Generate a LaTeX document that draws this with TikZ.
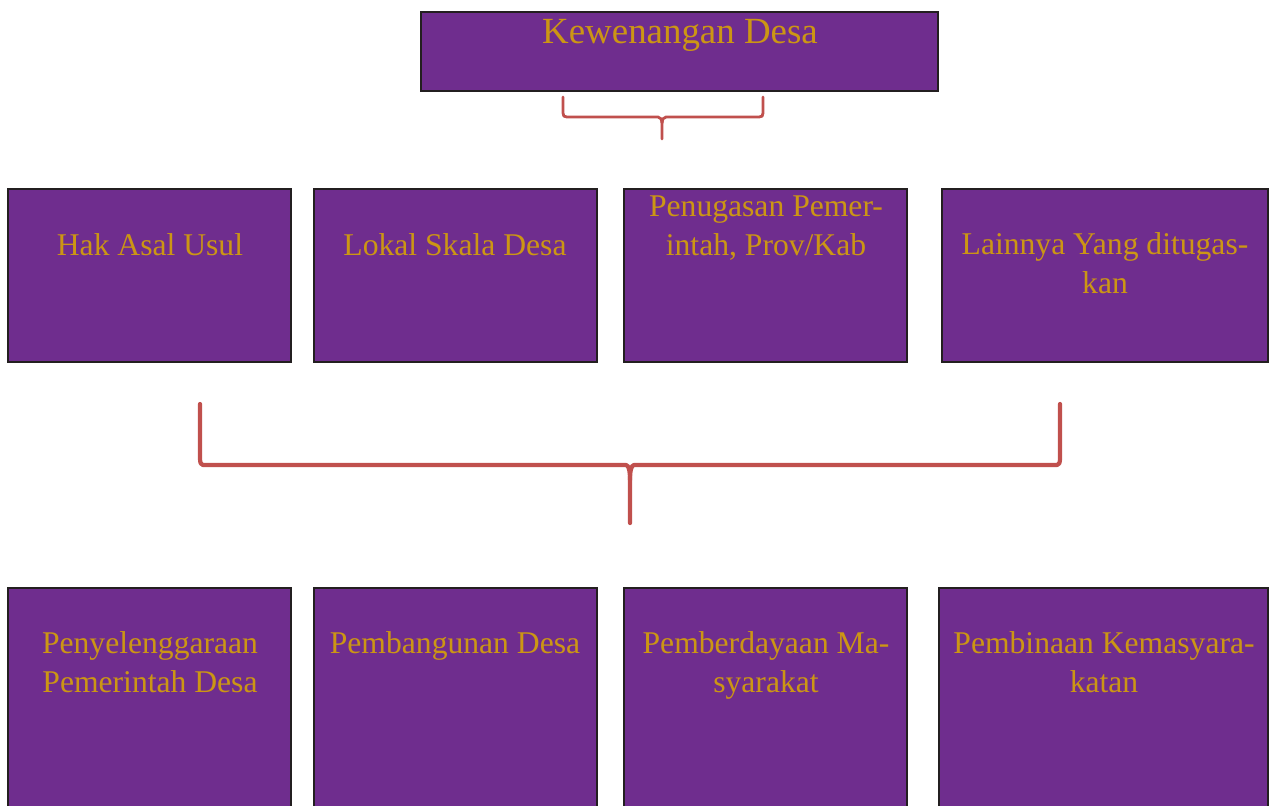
\documentclass[tikz,border=0pt]{standalone}
\usepackage{fontspec}
\setmainfont{Liberation Serif}
\definecolor{boxfill}{RGB}{111,45,142}
\definecolor{boxline}{RGB}{35,31,32}
\definecolor{gold}{RGB}{204,150,20}
\definecolor{bracered}{RGB}{192,80,77}

\begin{document}
\begin{tikzpicture}[x=0.02cm,y=-0.02cm,
  box/.style={draw=boxline,line width=1.6pt,fill=boxfill,inner sep=0pt},
  lbl/.style={text=gold,align=center,anchor=base,inner sep=0pt,font=\fontsize{18}{22.2}\selectfont},
  brc/.style={draw=bracered,line cap=round,line join=round}]
\useasboundingbox (0,0) rectangle (1273,805);
\clip (0,0) rectangle (1273,805);
% top box
\node[box,minimum width=10.34cm,minimum height=1.58cm] (kew) at (679.5,51.5) {};
\node[lbl,font=\fontsize{21}{25}\selectfont] (kewt) at (680,43) {Kewenangan Desa};
% row 1
\node[box,minimum width=5.66cm,minimum height=3.46cm] (hak) at (149.5,275.5) {};
\node[box,minimum width=5.66cm,minimum height=3.46cm] (lokal) at (455.5,275.5) {};
\node[box,minimum width=5.66cm,minimum height=3.46cm] (tugas) at (765.5,275.5) {};
\node[box,minimum width=6.52cm,minimum height=3.46cm] (lain) at (1105,275.5) {};
\node[lbl] (hakt) at (150,255) {Hak Asal Usul};
\node[lbl] (lokalt) at (455,255) {Lokal Skala Desa};
\node[lbl] (tugast) at (766,255) {Penugasan Pemer-\\intah, Prov/Kab};
\node[lbl] (laint) at (1105,293) {Lainnya Yang ditugas-\\kan};
% row 2
\node[box,minimum width=5.66cm,minimum height=4.8cm] (peny) at (149.5,708) {};
\node[box,minimum width=5.66cm,minimum height=4.8cm] (bang) at (455.5,708) {};
\node[box,minimum width=5.66cm,minimum height=4.8cm] (daya) at (765.5,708) {};
\node[box,minimum width=6.58cm,minimum height=4.8cm] (bina) at (1103.5,708) {};
\node[lbl] (penyt) at (150,692) {Penyelenggaraan\\Pemerintah Desa};
\node[lbl] (bangt) at (455,653) {Pembangunan Desa};
\node[lbl] (dayat) at (766,692) {Pemberdayaan Ma-\\syarakat};
\node[lbl] (binat) at (1104,692) {Pembinaan Kemasyara-\\katan};
% braces
\coordinate (b1l) at (563,97);
\coordinate (b1r) at (763,97);
\coordinate (b1m) at (662,139);
\draw[brc,line width=1.6pt] (b1l) -- ++(0,16) .. controls +(0,3) and +(-3,0) .. ++(4,4)
  -- ++(91,0) .. controls +(3,0) and +(0,-3) .. (b1m |- 0,123) -- (b1m);
\draw[brc,line width=1.6pt] (b1r) -- ++(0,16) .. controls +(0,3) and +(3,0) .. ++(-4,4)
  -- ++(-93,0) .. controls +(-3,0) and +(0,-3) .. (b1m |- 0,123);
\coordinate (b2l) at (200,404);
\coordinate (b2r) at (1060,404);
\coordinate (b2m) at (630,523);
\draw[brc,line width=2.4pt] (b2l) -- ++(0,54) .. controls +(0,5) and +(-2,0) .. ++(3,7)
  -- ++(423,0) .. controls +(3,0) and +(0,-8) .. (b2m |- 0,480) -- (b2m);
\draw[brc,line width=2.4pt] (b2r) -- ++(0,54) .. controls +(0,5) and +(2,0) .. ++(-3,7)
  -- ++(-423,0) .. controls +(-3,0) and +(0,-8) .. (b2m |- 0,480);
\end{tikzpicture}
\end{document}
